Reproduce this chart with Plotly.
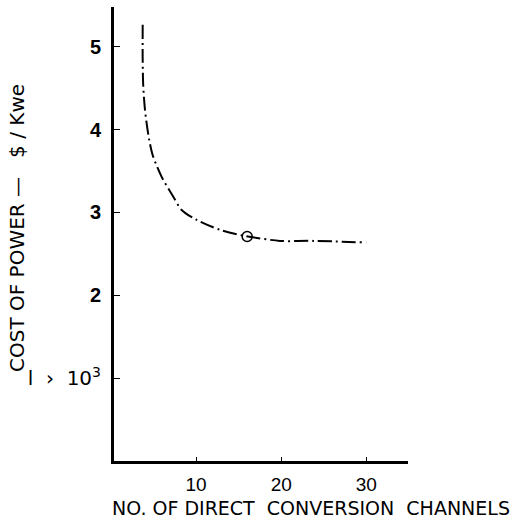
import plotly.graph_objects as go

# Cost of power versus number of direct conversion channels
channels = [3.72, 3.72, 3.79, 3.99, 4.26, 4.50, 4.90, 5.95, 7.32, 8.30, 10.07, 12.8, 15.54, 19.85, 23.77, 29.99]
cost = [5.265, 4.84, 4.52, 4.24, 4.02, 3.87, 3.69, 3.43, 3.19, 3.03, 2.91, 2.79, 2.72, 2.657, 2.657, 2.637]

# Selected design point
opt_channels = [16.0]
opt_cost = [2.71]

x_ticks = [10, 20, 30]
x_ticktext = ["10", "20", "30"]
y_ticks = [1, 2, 3, 4, 5]
y_ticktext = [
    "<span style='font-weight:normal;font-size:20px;font-family:DejaVu Sans'>l  ›  10<sup>3</sup></span>",
    "2", "3", "4", "5",
]

fig = go.Figure()
fig.add_trace(go.Scatter(
    x=channels, y=cost, mode="lines",
    line=dict(color="black", width=2, dash="14px,4px,2px,4px", shape="spline", smoothing=0.8),
    hoverinfo="skip",
))
fig.add_trace(go.Scatter(
    x=opt_channels, y=opt_cost, mode="markers",
    marker=dict(symbol="circle-open", size=10, color="black", line=dict(width=1.5)),
    hoverinfo="skip",
))

L, R, T, B = 114, 120, 7, 60
W, H = 528, 521
pw, ph = W - L - R, H - T - B

fig.update_layout(
    width=W, height=H,
    margin=dict(l=L, r=R, t=T, b=B),
    paper_bgcolor="white", plot_bgcolor="white",
    showlegend=False,
    font=dict(family="DejaVu Sans, Liberation Sans, sans-serif", color="black"),
    xaxis=dict(
        range=[0.35, 34.9], showgrid=False, zeroline=False,
        showline=True, linecolor="black", linewidth=3,
        ticks="inside", ticklen=4, tickwidth=1, tickcolor="black",
        tickvals=x_ticks, ticktext=x_ticktext,
        tickfont=dict(size=19, family="Liberation Sans, Arial, sans-serif"),
        ticklabelstandoff=4,
    ),
    yaxis=dict(
        range=[0, 5.48], showgrid=False, zeroline=False,
        showline=True, linecolor="black", linewidth=3,
        ticks="inside", ticklen=6, tickwidth=1, tickcolor="black",
        tickvals=y_ticks, ticktext=y_ticktext,
        tickfont=dict(size=20, family="Liberation Sans, Arial, sans-serif", weight="bold"),
        ticklabelstandoff=6,
    ),
    annotations=[
        dict(text="NO. OF DIRECT  CONVERSION  CHANNELS",
             xref="paper", yref="paper", xanchor="center", yanchor="middle",
             x=(311 - L) / pw, y=-(508 - (H - B)) / ph,
             showarrow=False, font=dict(size=19)),
        dict(text="COST OF POWER —   $ / Kwe",
             xref="paper", yref="paper", xanchor="center", yanchor="middle",
             x=-(L - 17) / pw, y=((H - B) - 228) / ph,
             textangle=-90, showarrow=False, font=dict(size=20)),
    ],
)

fig.write_html("out.html")
